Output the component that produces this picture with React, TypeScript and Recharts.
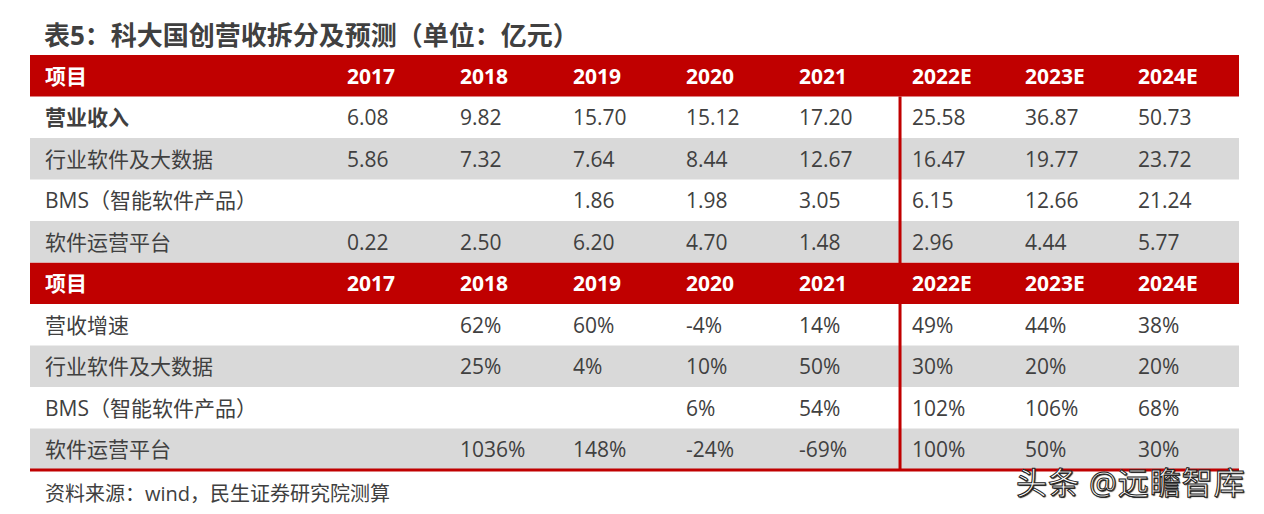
import React from 'react';
import { ScatterChart, Scatter, XAxis, YAxis, ReferenceArea, ReferenceLine } from 'recharts';

// 表5 data
const years = ['2017', '2018', '2019', '2020', '2021', '2022E', '2023E', '2024E'];
const revenueLabels = ['营业收入', '行业软件及大数据', 'BMS（智能软件产品）', '软件运营平台'];
const totalRevenue = [6.08, 9.82, 15.7, 15.12, 17.2, 25.58, 36.87, 50.73];
const industrySoftware = [5.86, 7.32, 7.64, 8.44, 12.67, 16.47, 19.77, 23.72];
const bmsRevenue = [null, null, 1.86, 1.98, 3.05, 6.15, 12.66, 21.24];
const platformRevenue = [0.22, 2.5, 6.2, 4.7, 1.48, 2.96, 4.44, 5.77];
const growthLabels = ['营收增速', '行业软件及大数据', 'BMS（智能软件产品）', '软件运营平台'];
const totalGrowth = [null, 62, 60, -4, 14, 49, 44, 38];
const industryGrowth = [null, 25, 4, 10, 50, 30, 20, 20];
const bmsGrowth = [null, null, null, 6, 54, 102, 106, 68];
const platformGrowth = [null, 1036, 148, -24, -69, 100, 50, 30];

const RED = '#C00000';
const GRAY = '#D9D9D9';
const TEXT = '#404040';
const FONT = "'Open Sans','Noto Sans CJK SC',sans-serif";
const LABEL_COL = -2.7; // left edge of the 项目 column, in column units

const revenueSeries = [totalRevenue, industrySoftware, bmsRevenue, platformRevenue];
const growthSeries = [totalGrowth, industryGrowth, bmsGrowth, platformGrowth];

// build cells: row index 0 = header, 1-4 revenue, 5 header, 6-9 growth
const headerCells: any[] = [];
const labelCells: any[] = [];
const valueCells: any[] = [];
[0, 5].forEach((r) => {
    headerCells.push({ x: LABEL_COL, y: r + 0.5, text: '项目', pad: 15 });
    years.forEach((yr, i) => headerCells.push({ x: i, y: r + 0.5, text: yr, pad: 12 }));
});
revenueLabels.forEach((lab, k) => {
    labelCells.push({ x: LABEL_COL, y: k + 1.5, text: lab, bold: k === 0 });
    revenueSeries[k].forEach((v, i) => {
        if (v !== null) valueCells.push({ x: i, y: k + 1.5, text: v.toFixed(2) });
    });
});
growthLabels.forEach((lab, k) => {
    labelCells.push({ x: LABEL_COL, y: k + 6.5, text: lab, bold: false });
    growthSeries[k].forEach((v, i) => {
        if (v !== null) valueCells.push({ x: i, y: k + 6.5, text: `${v}%` });
    });
});

const HeaderText = (props: any) => (
    <text x={props.cx + props.payload.pad} y={props.cy} dominantBaseline="central"
        fill="#fff" fontWeight="bold" fontSize={21} fontFamily={FONT}>{props.payload.text}</text>
);
const LabelText = (props: any) => (
    <text x={props.cx + 15} y={props.cy} dominantBaseline="central"
        fill={TEXT} fontWeight={props.payload.bold ? 'bold' : 'normal'} fontSize={21} fontFamily={FONT}>{props.payload.text}</text>
);
const ValueText = (props: any) => (
    <text x={props.cx + 12} y={props.cy} dominantBaseline="central"
        fill={TEXT} fontSize={21} fontFamily={FONT}>{props.payload.text}</text>
);

export default function App() {
    return (
        <div style={{ position: 'absolute', left: 0, top: 0, width: 1264, height: 514, background: '#fff', fontFamily: FONT }}>
            <div style={{ position: 'absolute', left: 44, top: 20, fontSize: 26, fontWeight: 'bold', color: TEXT, lineHeight: '30px', whiteSpace: 'nowrap' }}>
                表5：科大国创营收拆分及预测（单位：亿元）
            </div>
            <ScatterChart width={1264} height={514} margin={{ top: 55, right: 25, bottom: 44, left: 30 }}>
                <XAxis type="number" dataKey="x" domain={[LABEL_COL, 8]} hide allowDataOverflow />
                <YAxis type="number" dataKey="y" domain={[0, 10]} reversed hide allowDataOverflow />
                {/* header bands */}
                <ReferenceArea x1={LABEL_COL} x2={8} y1={0} y2={1} fill={RED} fillOpacity={1} stroke="none" />
                <ReferenceArea x1={LABEL_COL} x2={8} y1={5} y2={6} fill={RED} fillOpacity={1} stroke="none" />
                {/* striped rows */}
                {[2, 4, 7, 9].map((r) => (
                    <ReferenceArea key={r} x1={LABEL_COL} x2={8} y1={r} y2={r + 1} fill={GRAY} fillOpacity={1} stroke="none" />
                ))}
                <ReferenceLine segment={[{ x: 5, y: 1 }, { x: 5, y: 10 }]} stroke={RED} strokeWidth={3} />
                <ReferenceLine y={10} stroke={RED} strokeWidth={3} />
                <Scatter data={headerCells} shape={HeaderText} isAnimationActive={false} />
                <Scatter data={labelCells} shape={LabelText} isAnimationActive={false} />
                <Scatter data={valueCells} shape={ValueText} isAnimationActive={false} />
            </ScatterChart>
            <div style={{ position: 'absolute', left: 45, top: 482, fontSize: 20, color: TEXT, lineHeight: '24px', whiteSpace: 'nowrap' }}>
                资料来源：wind，民生证券研究院测算
            </div>
            <div style={{ position: 'absolute', left: 1016, top: 467, fontSize: 31, color: '#fff', lineHeight: '30px', letterSpacing: 1, whiteSpace: 'nowrap', WebkitTextStroke: '1px #222', textShadow: '1px 1px 1px #222' }}>
                头条 @远瞻智库
            </div>
        </div>
    );
}
